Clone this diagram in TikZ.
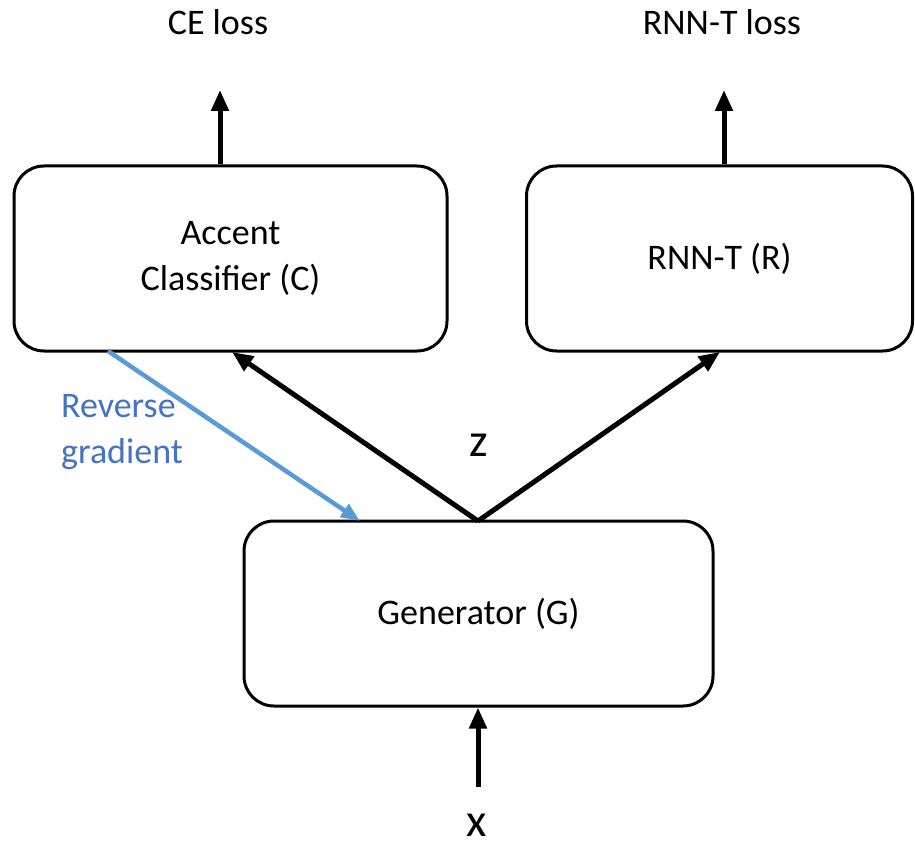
\documentclass[tikz,border=0pt]{standalone}
\usepackage{fontspec}
\setmainfont{Carlito}
\usetikzlibrary{arrows.meta}
\definecolor{gradblue}{HTML}{5B9BD5}
\definecolor{labelblue}{HTML}{4472C4}
\tikzset{
  block/.style={draw=black, line width=3pt, rounded corners=30pt, fill=white,
    minimum height=185pt, inner sep=0pt, align=center},
  txt/.style={font=\fontsize{36}{46}\selectfont, inner sep=0pt},
  vartxt/.style={font=\fontsize{47}{56}\selectfont, inner sep=0pt,
    text depth=0pt, anchor=base},
  flow/.style={draw=black, line width=5pt,
    -{Triangle[length=21pt, width=17pt]}},
  backflow/.style={draw=gradblue, line width=4.5pt,
    -{Triangle[length=19pt, width=15pt]}}
}
\begin{document}
\begin{tikzpicture}[x=1pt, y=-1pt]
  \useasboundingbox (0,0) rectangle (915,842);

  % modules
  \node[block, txt, minimum width=433pt] (ac) at (230.5,258.5) {Accent\\Classifier (C)};
  \node[block, txt, minimum width=386pt] (rt) at (719.5,258.5) {RNN-T (R)};
  \node[block, txt, minimum width=469pt] (gen) at (478.5,613.5) {Generator (G)};

  % losses
  \coordinate (celoss) at (220,90);
  \coordinate (rtloss) at (724,90);
  \node[txt] (celbl) at (218,22) {CE loss};
  \node[txt] (rtlbl) at (722,22) {RNN-T loss};
  \draw[flow] (ac.north -| celoss) -- (celoss);
  \draw[flow] (rt.north -| rtloss) -- (rtloss);

  % shared encoding z
  \coordinate (z) at (478,521);
  \coordinate (acin) at (232,352);
  \coordinate (rtin) at (720,352);
  \node[vartxt] (zlbl) at (479,456) {z};
  \draw[flow] (z) -- (acin);
  \draw[flow] (z) -- (rtin);

  % input x
  \coordinate (xin) at (478,787);
  \node[vartxt] (xlbl) at (477,836) {x};
  \draw[flow] (xin) -- (gen.south -| xin);

  % gradient reversal path
  \coordinate (gstart) at (108,351);
  \coordinate (gend) at (360,521);
  \draw[backflow] (gstart) -- (gend);
  \node[txt, text=labelblue, anchor=west, align=left] (rglbl) at (61,432) {Reverse\\gradient};
\end{tikzpicture}
\end{document}
